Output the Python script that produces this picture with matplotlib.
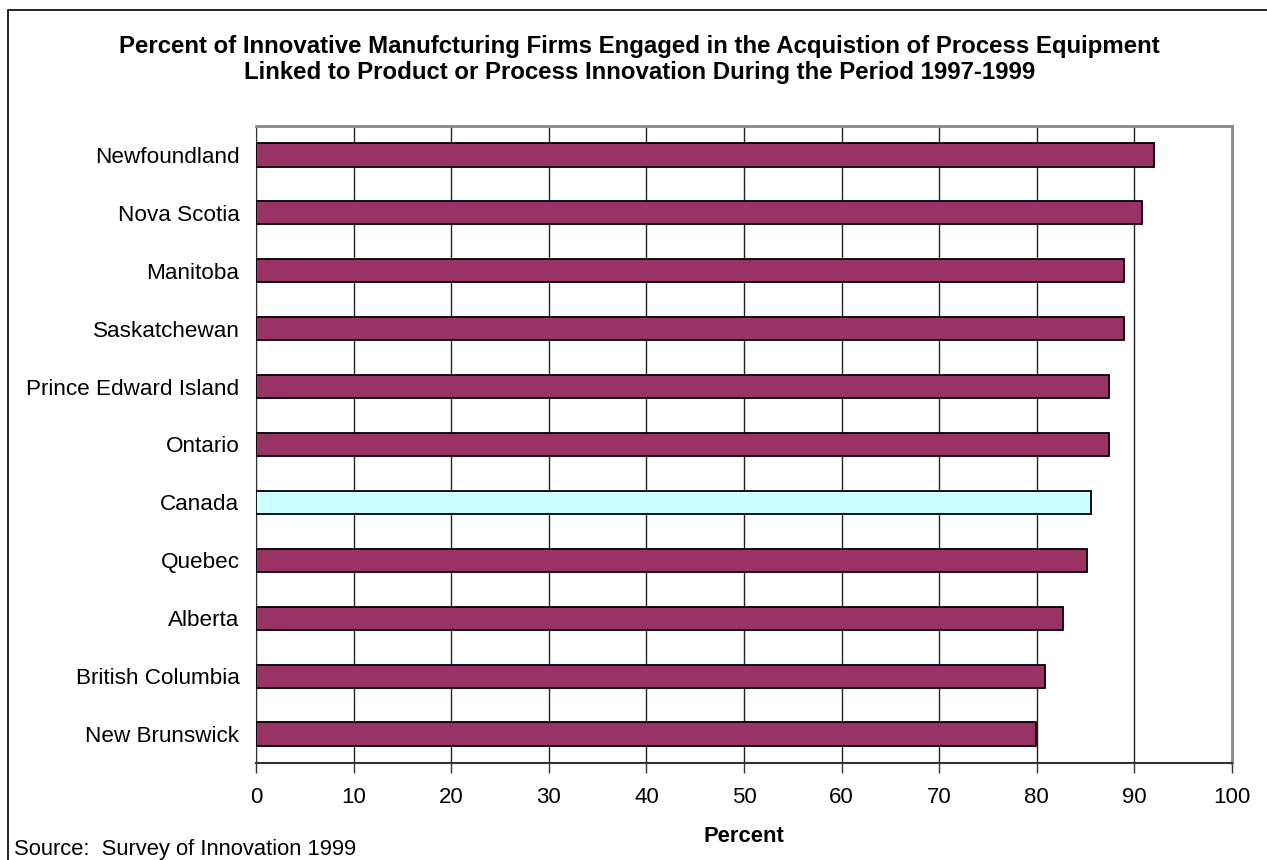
import numpy as np
import matplotlib.pyplot as plt
from matplotlib.patches import Rectangle

plt.rcParams['font.family'] = ['Liberation Sans', 'DejaVu Sans']

# provinces listed top to bottom
provinces = ["Newfoundland", "Nova Scotia", "Manitoba", "Saskatchewan",
             "Prince Edward Island", "Ontario", "Canada", "Quebec",
             "Alberta", "British Columbia", "New Brunswick"]
percent = [92.0, 90.8, 88.9, 88.9, 87.4, 87.4, 85.5, 85.1, 82.7, 80.8, 79.9]
x_ticks = list(range(0, 101, 10))

bar_color = "#993366"
canada_color = "#CCFFFF"

fig = plt.figure(figsize=(12.67, 8.6), dpi=100)
ax = fig.add_axes([0.2021, 0.1128, 0.7703, 0.7407])

ypos = np.arange(len(provinces))[::-1]
colors = [canada_color if p == "Canada" else bar_color for p in provinces]
ax.barh(ypos, percent, height=0.4, color=colors, edgecolor="black",
        linewidth=1.3, zorder=3)

ax.set_xlim(0, 100)
ax.set_ylim(-0.5, len(provinces) - 0.5)
ax.set_xticks(x_ticks)
ax.set_yticks(ypos)
ax.set_yticklabels(provinces)
ax.tick_params(axis="x", direction="out", length=7, width=1, pad=10,
               labelsize=16, color="#333333")
ax.tick_params(axis="y", length=0, pad=12, labelsize=16.2)

ax.grid(axis="x", color="#222222", linewidth=1, zorder=0)
ax.set_axisbelow(True)
for side in ["top", "right"]:
    ax.spines[side].set_color("#888888")
    ax.spines[side].set_linewidth(2)
ax.spines["left"].set_color("#333333")
ax.spines["bottom"].set_color("#333333")
ax.spines["bottom"].set_linewidth(1.5)

ax.set_xlabel("Percent", fontsize=15.8, fontweight="bold", labelpad=13)

fig.text(0.505, 0.9305,
         "Percent of Innovative Manufcturing Firms Engaged in the Acquistion of Process Equipment\n"
         "Linked to Product or Process Innovation During the Period 1997-1999",
         ha="center", va="center", fontsize=17.3, fontweight="bold",
         linespacing=1.18)
fig.text(0.011, 0.006, "Source:  Survey of Innovation 1999",
         ha="left", va="baseline", fontsize=15.8)

# outer frame around the whole chart
fig.patches.append(Rectangle((8 / 1267, -0.1), 1.2, 1.1 - 10 / 860,
                             transform=fig.transFigure, fill=False,
                             edgecolor="black", linewidth=1.2))

fig.savefig("out.png", dpi=100)
